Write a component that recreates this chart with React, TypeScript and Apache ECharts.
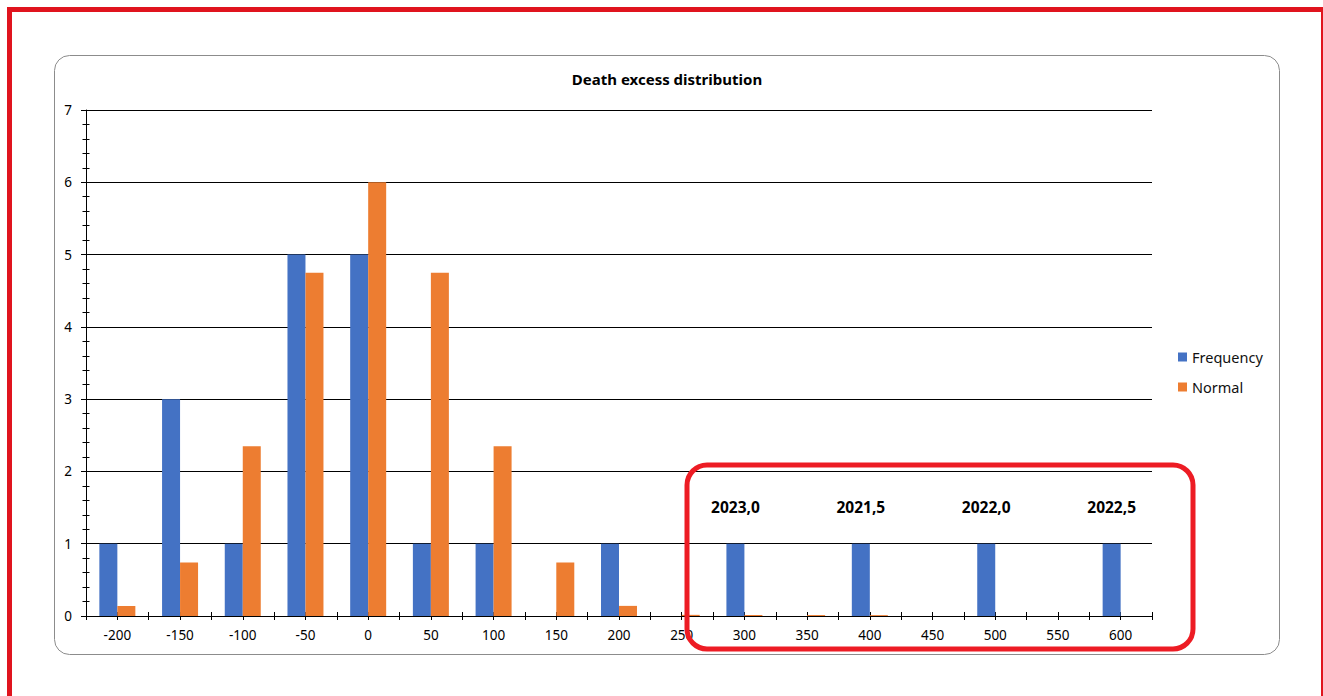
import React, { useEffect, useRef } from 'react';
import * as echarts from 'echarts';

const categories = ['-200', '-150', '-100', '-50', '0', '50', '100', '150', '200', '250', '300', '350', '400', '450', '500', '550', '600'];
const frequency = [1, 3, 1, 5, 5, 1, 1, 0, 1, 0, 1, 0, 1, 0, 1, 0, 1];
const normal = [0.14, 0.74, 2.35, 4.75, 6.0, 4.75, 2.35, 0.74, 0.14, 0.016, 0.014, 0.013, 0.012, 0, 0, 0, 0];
const yearLabels = ['', '', '', '', '', '', '', '', '', '', '2023,0', '', '2021,5', '', '2022,0', '', '2022,5'];
const yTicks = { min: 0, max: 7, interval: 1 };

const FONT = '"Noto Sans", "Open Sans", Arial, sans-serif';
const RED = '#ED1C24';

export default function App() {
  const ref = useRef<HTMLDivElement>(null);
  useEffect(() => {
    if (!ref.current) return;
    const chart = echarts.init(ref.current, null, { renderer: 'svg' });
    const tickAxisBase = {
      type: 'value',
      gridIndex: 0,
      position: 'bottom',
      min: 0,
      max: categories.length * 2,
      interval: 1,
      axisLine: { show: false },
      axisLabel: { show: false },
      splitLine: { show: false },
    };
    chart.setOption({
      animation: false,
      backgroundColor: '#ffffff',
      textStyle: { fontFamily: FONT },
      title: {
        text: 'Death excess distribution',
        left: 662,
        top: 66,
        textAlign: 'center',
        textStyle: { fontFamily: FONT, fontWeight: 'bold', fontSize: 15, color: '#000' },
      },
      legend: {
        data: ['Frequency', 'Normal'],
        orient: 'vertical',
        left: 1173,
        top: 344,
        itemWidth: 9,
        itemHeight: 9,
        itemGap: 14,
        icon: 'rect',
        textStyle: { fontFamily: FONT, fontSize: 14.5, color: '#111', lineHeight: 16 },
      },
      grid: { left: 86, right: 171, top: 110, bottom: 80, containLabel: false },
      xAxis: [
        {
          type: 'category',
          data: categories,
          position: 'bottom',
          axisLine: { show: true, lineStyle: { color: '#000', width: 1 } },
          axisTick: { show: false },
          axisLabel: { fontFamily: FONT, fontSize: 13.5, color: '#000', margin: 12 },
          splitLine: { show: false },
        },
        {
          ...tickAxisBase,
          axisTick: { show: true, length: 4, lineStyle: { color: '#000', width: 1 } },
        },
        {
          ...tickAxisBase,
          axisTick: { show: true, inside: true, length: 4, lineStyle: { color: '#000', width: 1 } },
        },
      ],
      yAxis: [
        {
          type: 'value',
          position: 'left',
          min: yTicks.min,
          max: yTicks.max,
          interval: yTicks.interval,
          axisLine: { show: true, lineStyle: { color: '#000', width: 1 } },
          axisTick: { show: true, length: 5, lineStyle: { color: '#000' } },
          minorTick: { show: true, splitNumber: 5, length: 3.5, lineStyle: { color: '#000' } },
          splitLine: { show: true, lineStyle: { color: '#000', width: 1 } },
          axisLabel: { fontFamily: FONT, fontSize: 13.5, color: '#000', margin: 14 },
        },
        {
          type: 'value',
          position: 'left',
          min: yTicks.min,
          max: yTicks.max,
          interval: yTicks.interval,
          axisLine: { show: false },
          axisTick: { show: false, inside: true },
          minorTick: { show: true, splitNumber: 5, length: 3.5, lineStyle: { color: '#000' } },
          splitLine: { show: false },
          axisLabel: { show: false },
        },
      ],
      series: [
        {
          name: 'Frequency',
          type: 'bar',
          xAxisIndex: 0,
          yAxisIndex: 0,
          data: frequency,
          barWidth: 18,
          barGap: '0%',
          itemStyle: { color: '#4472C4' },
          label: {
            show: true,
            position: 'top',
            distance: 29,
            formatter: (p: any) => yearLabels[p.dataIndex],
            fontFamily: FONT,
            fontWeight: 'bold',
            fontSize: 15.5,
            color: '#000',
          },
        },
        {
          name: 'Normal',
          type: 'bar',
          xAxisIndex: 0,
          yAxisIndex: 0,
          data: normal,
          barWidth: 18,
          barGap: '0%',
          itemStyle: { color: '#ED7D31' },
        },
      ],
      graphic: [
        {
          type: 'rect',
          z: -10,
          silent: true,
          shape: { x: 54.5, y: 55.5, width: 1225, height: 599, r: 15 },
          style: { fill: 'none', stroke: '#8c8c8c', lineWidth: 1 },
        },
        { type: 'rect', silent: true, shape: { x: 7, y: 7, width: 1316, height: 5 }, style: { fill: '#E0141E' } },
        { type: 'rect', silent: true, shape: { x: 7, y: 7, width: 5, height: 689 }, style: { fill: '#E0141E' } },
        { type: 'rect', silent: true, shape: { x: 1321, y: 7, width: 2, height: 689 }, style: { fill: '#E0141E' } },
        {
          type: 'rect',
          z: 100,
          silent: true,
          shape: { x: 687, y: 465, width: 506, height: 184, r: 20 },
          style: { fill: 'none', stroke: RED, lineWidth: 5 },
        },
      ],
    });
    return () => chart.dispose();
  }, []);
  return <div ref={ref} style={{ position: 'absolute', left: 0, top: 0, width: 1323, height: 696 }} />;
}
